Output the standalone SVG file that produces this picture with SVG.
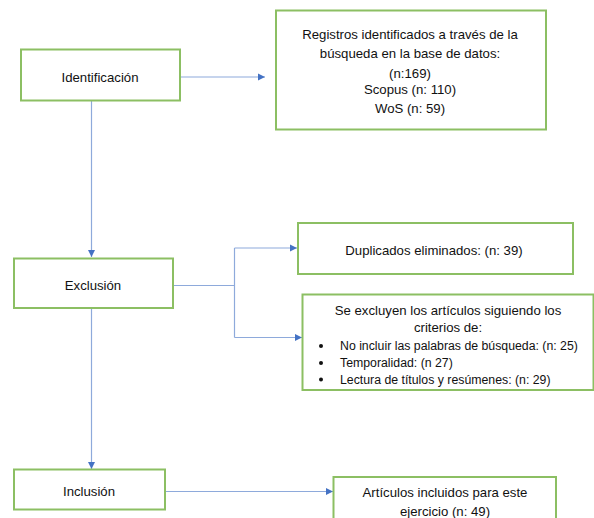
<svg xmlns="http://www.w3.org/2000/svg" width="594" height="518" viewBox="0 0 594 518">
<style>
.box{fill:#fff;stroke:#8cbf63;stroke-width:2}
.t{font-family:"Liberation Sans",Arial,sans-serif;font-size:13.2px;fill:#111;text-anchor:middle}
.tl{font-family:"Liberation Sans",Arial,sans-serif;font-size:12.3px;fill:#111}
.c{fill:none;stroke:#8eaadb;stroke-width:1.2}
</style>
<defs>
<marker id="ah" markerWidth="8" markerHeight="8" refX="7" refY="4" orient="auto" markerUnits="userSpaceOnUse">
<path d="M0,0.5 L7,4 L0,7.5 Z" fill="#4472c4"/>
</marker>
</defs>
<rect width="594" height="518" fill="#fff"/>
<g id="connectors">
<path class="c" d="M180,77 H265" marker-end="url(#ah)"/>
<path class="c" d="M91.5,101 V257" marker-end="url(#ah)"/>
<path class="c" d="M173,285.5 H234.5"/>
<path class="c" d="M234.5,248 V337.5"/>
<path class="c" d="M234.5,248 H297" marker-end="url(#ah)"/>
<path class="c" d="M234.5,337.5 H302" marker-end="url(#ah)"/>
<path class="c" d="M91.5,308 V469" marker-end="url(#ah)"/>
<path class="c" d="M165,491.5 H333" marker-end="url(#ah)"/>
</g>
<g id="identificacion">
<rect class="box" x="21" y="49.5" width="159" height="51"/>
<text class="t" x="100" y="81.5">Identificación</text>
</g>
<g id="registros">
<rect class="box" x="276" y="10.5" width="270" height="119"/>
<text class="t" x="410" y="38.5">Registros identificados a través de la</text>
<text class="t" x="410" y="58">búsqueda en la base de datos:</text>
<text class="t" x="410" y="77.5">(n:169)</text>
<text class="t" x="410" y="94">Scopus (n: 110)</text>
<text class="t" x="410" y="112.5">WoS (n: 59)</text>
</g>
<g id="exclusion">
<rect class="box" x="14" y="258.5" width="159" height="49.5"/>
<text class="t" x="93" y="289.5">Exclusión</text>
</g>
<g id="duplicados">
<rect class="box" x="298" y="223" width="275" height="51"/>
<text class="t" x="434" y="254.5">Duplicados eliminados: (n: 39)</text>
</g>
<g id="criterios">
<rect class="box" x="302.5" y="294.5" width="291" height="95.5"/>
<text class="t" x="448" y="314.5">Se excluyen los artículos siguiendo los</text>
<text class="t" x="448" y="331.5">criterios de:</text>
<circle cx="321" cy="346" r="2" fill="#111"/>
<circle cx="321" cy="363" r="2" fill="#111"/>
<circle cx="321" cy="379.5" r="2" fill="#111"/>
<text class="tl" x="340" y="350">No incluir las palabras de búsqueda: (n: 25)</text>
<text class="tl" x="340" y="367">Temporalidad: (n 27)</text>
<text class="tl" x="340" y="383.5">Lectura de títulos y resúmenes: (n: 29)</text>
</g>
<g id="inclusion">
<rect class="box" x="14" y="469.5" width="151" height="40"/>
<text class="t" x="89" y="495.5">Inclusión</text>
</g>
<g id="articulos">
<rect class="box" x="333.5" y="477" width="222.5" height="50"/>
<text class="t" x="445" y="496.5">Artículos incluidos para este</text>
<text class="t" x="445" y="515.5">ejercicio (n: 49)</text>
</g>
</svg>
